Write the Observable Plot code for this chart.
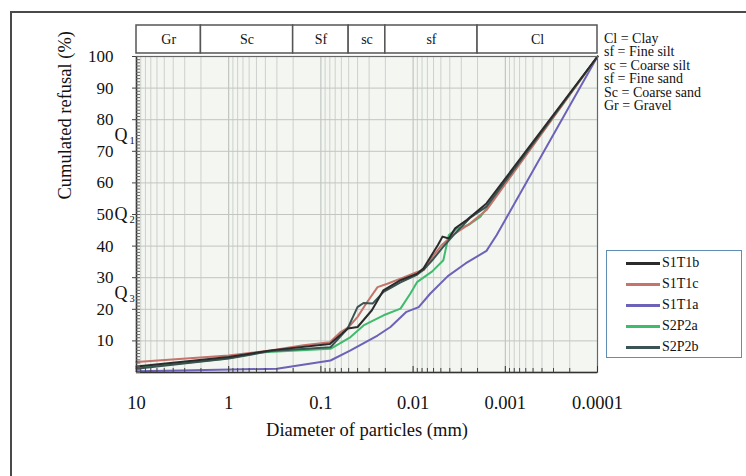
<!DOCTYPE html>
<html><head><meta charset="utf-8">
<script src="https://cdn.jsdelivr.net/npm/d3@7"></script>
<script src="https://cdn.jsdelivr.net/npm/@observablehq/plot@0.6"></script>
<style>
html,body{margin:0;padding:0;background:#fff;overflow:hidden;}
#wrap{position:relative;width:746px;height:476px;overflow:hidden;font-family:"Liberation Serif","Times New Roman",serif;color:#111;}
#outer{position:absolute;left:10px;top:11px;width:900px;height:700px;border:2px solid #4a4a4a;box-sizing:border-box;}
#main,#zones{position:absolute;left:0;}
#main{top:0;}
#zones{top:24px;}
#abbr{position:absolute;left:604px;top:32px;font-size:14px;line-height:13.4px;white-space:pre;}
#legend{position:absolute;left:606px;top:250px;width:136px;height:108px;border:1px solid #5f8db3;box-sizing:border-box;background:#fff;}
.item{position:absolute;left:0;height:21px;width:134px;}
.item .ln{position:absolute;left:19px;top:9px;width:34px;height:3px;}
.item .tx{position:absolute;left:55px;top:1px;font-size:14px;line-height:18px;}
</style></head><body><div id="wrap"><div id="outer"></div></div>
<script>
// ---- data ----
const seriesNames = ["S1T1b", "S1T1c", "S1T1a", "S2P2a", "S2P2b"];
const seriesColors = ["#2b2b2b", "#c4746a", "#6c62b8", "#3fbb6c", "#3b5352"];

const diamS1T1b = [10, 1, 0.35, 0.08, 0.051, 0.04, 0.028, 0.021, 0.0137, 0.009, 0.0077, 0.0054, 0.0048, 0.0041, 0.0035, 0.0026, 0.0016, 0.0001];
const pctS1T1b  = [1.9, 4.9, 7, 9, 13.9, 14.4, 19.7, 26, 29.2, 31.3, 33, 40.3, 43, 42.4, 45.6, 48.3, 53.5, 100];

const diamS1T1c = [10, 1, 0.35, 0.155, 0.08, 0.061, 0.05, 0.04, 0.032, 0.0243, 0.019, 0.0137, 0.009, 0.0077, 0.006, 0.0049, 0.0037, 0.0024, 0.0016, 0.0001];
const pctS1T1c  = [3.3, 5.4, 7, 8.6, 9.6, 12.8, 14.4, 17.6, 22, 27, 28.1, 29.7, 31.8, 32.4, 37.1, 40.3, 43.5, 47.2, 51.4, 100];

const diamS1T1a = [10, 3.33, 0.3, 0.0787, 0.0477, 0.0243, 0.0176, 0.0118, 0.0087, 0.0065, 0.0042, 0.0027, 0.0016, 0.00124, 0.0001];
const pctS1T1a  = [0.4, 0.6, 1.2, 3.8, 7, 11.7, 14.4, 19.2, 20.7, 25, 30.5, 34.5, 38.5, 43.5, 100];

const diamS2P2a = [10, 1.14, 0.42, 0.0787, 0.0477, 0.0345, 0.0209, 0.0137, 0.0107, 0.009, 0.0062, 0.0047, 0.0041, 0.0033, 0.0025, 0.00186, 0.0001];
const pctS2P2a  = [1.5, 4.3, 6.4, 7.5, 11.2, 14.9, 18.1, 20.2, 25, 28.7, 32, 35.5, 43.5, 45.6, 46.7, 49.3, 100];

const diamS2P2b = [10, 1, 0.35, 0.0787, 0.0514, 0.0401, 0.0345, 0.0275, 0.0209, 0.0137, 0.009, 0.0077, 0.006, 0.0048, 0.0035, 0.0024, 0.0016, 0.0001];
const pctS2P2b  = [1.2, 4.4, 6.8, 8, 13.9, 20.7, 22, 21.8, 25.5, 28.5, 31, 32.5, 36, 39.5, 44, 49, 52.5, 100];

const xTicks = [10, 1, 0.1, 0.01, 0.001, 0.0001];
const yTicks = [10, 20, 30, 40, 50, 60, 70, 80, 90, 100];
const quartileNames = ["Q", "Q", "Q"];
const quartileSubs = ["1", "2", "3"];
const quartileLevels = [75, 50, 25];

const zoneNames = ["Gr", "Sc", "Sf", "sc", "sf", "Cl"];
const zoneFrom  = [10, 2, 0.2, 0.05, 0.02, 0.002];
const zoneTo    = [2, 0.2, 0.05, 0.02, 0.002, 0.0001];

const abbrLines = ["Cl = Clay", "sf = Fine silt", "sc = Coarse silt", "sf = Fine sand", "Sc = Coarse sand", "Gr = Gravel"];

const xTitle = "Diameter of particles (mm)";
const yTitle = "Cumulated refusal (%)";

// ---- build tables ----
const seriesData = {
  S1T1b: [diamS1T1b, pctS1T1b], S1T1c: [diamS1T1c, pctS1T1c], S1T1a: [diamS1T1a, pctS1T1a],
  S2P2a: [diamS2P2a, pctS2P2a], S2P2b: [diamS2P2b, pctS2P2b]
};
const drawOrder = ["S1T1a", "S2P2a", "S1T1c", "S2P2b", "S1T1b"];
const rows = drawOrder.flatMap(s => seriesData[s][0].map((d, i) => ({s, d, p: seriesData[s][1][i]})));
const quartiles = quartileLevels.map((p, i) => ({p, q: quartileNames[i], sub: quartileSubs[i]}));
const zones = zoneNames.map((n, i) => ({n, from: zoneFrom[i], to: zoneTo[i]}));
const xMinor = [];
for (let e = -4; e <= 0; e++) for (let m = 2; m <= 9; m++) xMinor.push(+(m * Math.pow(10, e)).toPrecision(3));
const yMinor = d3.range(0, 101, 1);

const font = '"Liberation Serif","Times New Roman",serif';
const W = 746, H = 476, ML = 136, MR = 149, MT = 56, MB = 104;
const xScale = {type: "log", domain: [10, 0.0001]};

const chart = Plot.plot({
  width: W, height: H,
  marginLeft: ML, marginRight: MR, marginTop: MT, marginBottom: MB,
  style: {fontFamily: font, background: "transparent", color: "#111", overflow: "visible"},
  x: xScale,
  y: {domain: [0, 100]},
  color: {domain: seriesNames, range: seriesColors},
  marks: [
    Plot.frame({fill: "#f3f6f1", stroke: null}),
    Plot.gridX(xMinor, {stroke: "#cdd1cd", strokeOpacity: 1}),
    Plot.gridX(xTicks, {stroke: "#b8bcb8", strokeOpacity: 1}),
    Plot.gridY(yTicks, {stroke: "#c2c6c2", strokeOpacity: 1}),
    Plot.line(rows, {x: "d", y: "p", z: "s", stroke: "s", strokeWidth: 2, strokeLinejoin: "round", curve: "linear"}),
    Plot.frame({stroke: "#666", strokeWidth: 1.2}),
    Plot.ruleX([10], {stroke: "#333", strokeWidth: 1.5}),
    Plot.ruleY([0], {stroke: "#333", strokeWidth: 1.5}),
    Plot.axisY(yMinor, {tickSize: -4, tickFormat: () => "", label: null, stroke: "#666"}),
    Plot.axisY(yTicks, {tickSize: 4, tickPadding: 19, fontSize: 17, label: null, stroke: "#444"}),
    Plot.axisX(xMinor, {tickSize: -4, tickFormat: () => "", label: null, stroke: "#444"}),
    Plot.axisX(xTicks, {tickSize: -6, tickFormat: () => "", label: null, stroke: "#333"}),
    Plot.axisX(xTicks, {tickSize: 0, tickPadding: 23, fontSize: 18.5, tickFormat: d => String(d), label: null}),
    Plot.text([yTitle], {frameAnchor: "left", rotate: -90, dx: -71, dy: -15, fontSize: 18.5}),
    Plot.text([xTitle], {frameAnchor: "bottom", dy: 63, fontSize: 18.5}),
    Plot.text(quartiles, {y: "p", text: "q", frameAnchor: "left", dx: -22, textAnchor: "start", fontSize: 18}),
    Plot.text(quartiles, {y: "p", text: "sub", frameAnchor: "left", dx: -7, dy: 5, textAnchor: "start", fontSize: 10.5})
  ]
});
chart.id = "main";

const zoneBar = Plot.plot({
  width: W, height: 30,
  marginLeft: ML, marginRight: MR, marginTop: 1, marginBottom: 1,
  style: {fontFamily: font, background: "transparent", color: "#111"},
  x: {...xScale, axis: null},
  marks: [
    Plot.rect(zones, {x1: "from", x2: "to", fill: "white", stroke: "#555", strokeWidth: 1.5}),
    Plot.text(zones, {x: z => Math.sqrt(z.from * z.to), text: "n", fontSize: 14, frameAnchor: "middle"})
  ]
});
zoneBar.id = "zones";

const wrap = document.getElementById("wrap");
wrap.appendChild(chart);
wrap.appendChild(zoneBar);

const abbr = document.createElement("div");
abbr.id = "abbr";
abbr.textContent = abbrLines.join("\n");
wrap.appendChild(abbr);

const legend = document.createElement("div");
legend.id = "legend";
seriesNames.forEach((n, i) => {
  const it = document.createElement("div");
  it.className = "item";
  it.style.top = (2 + i * 21) + "px";
  const ln = document.createElement("div");
  ln.className = "ln"; ln.style.background = seriesColors[i];
  const tx = document.createElement("div");
  tx.className = "tx"; tx.textContent = n;
  it.appendChild(ln); it.appendChild(tx);
  legend.appendChild(it);
});
wrap.appendChild(legend);
</script></body></html>
